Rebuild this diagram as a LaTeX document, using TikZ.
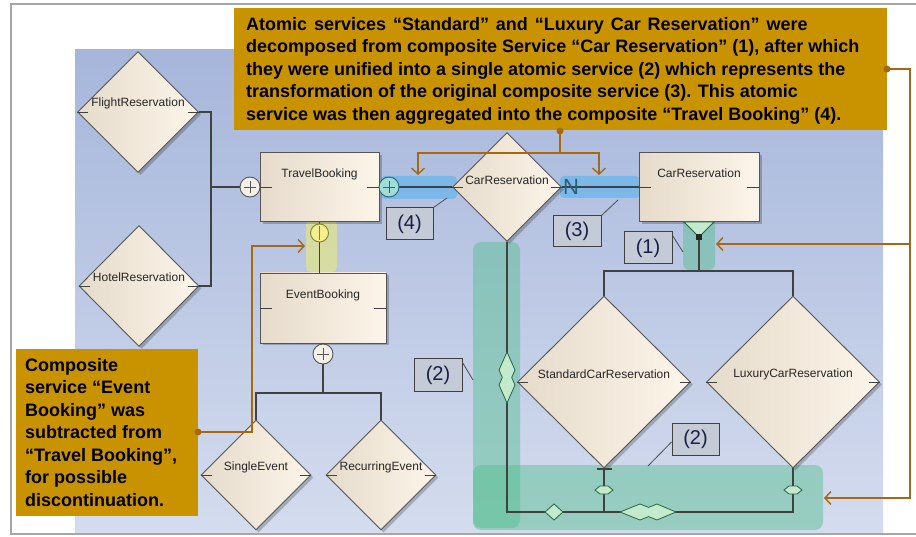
\documentclass[tikz,border=0pt]{standalone}
\usepackage{fontspec}
\setmainfont{Liberation Sans}
\usetikzlibrary{shapes.geometric,shadows,arrows.meta}

\definecolor{panelTop}{RGB}{166,182,219}
\definecolor{panelBot}{RGB}{212,220,238}
\definecolor{ochre}{RGB}{201,147,0}
\definecolor{annot}{RGB}{168,104,18}
\definecolor{creamL}{RGB}{230,219,203}
\definecolor{creamR}{RGB}{252,245,233}
\definecolor{edge}{RGB}{85,85,85}
\definecolor{wirec}{RGB}{65,65,65}
\definecolor{tagfill}{RGB}{196,203,214}
\definecolor{tagtext}{RGB}{22,32,72}
\definecolor{bandblue}{RGB}{110,182,235}
\definecolor{bandgreen}{RGB}{80,190,140}
\definecolor{bandyellow}{RGB}{235,235,120}
\definecolor{nodegreen}{RGB}{196,234,204}
\definecolor{darkgreen}{RGB}{40,100,70}
\definecolor{plusfill}{RGB}{244,240,232}
\definecolor{cyanfill}{RGB}{160,220,216}
\definecolor{cyanedge}{RGB}{40,100,110}
\definecolor{yelfill}{RGB}{246,240,140}
\definecolor{yeledge}{RGB}{130,130,60}
\definecolor{nmark}{RGB}{38,96,126}

\begin{document}
\begin{tikzpicture}[x=1pt,y=-1pt,
  every node/.style={inner sep=0pt},
  shadowed/.style={drop shadow={shadow xshift=2.5pt,shadow yshift=-2.5pt,opacity=0.22,fill=black}},
  svcbox/.style={rectangle,draw=edge,line width=0.9pt,left color=creamL,right color=creamR,shadowed},
  svcdia/.style={diamond,draw=edge,line width=0.9pt,left color=creamL,right color=creamR,shadowed},
  svclabel/.style={font=\fontsize{12}{14}\selectfont,text=black!85},
  wire/.style={draw=wirec,line width=1.1pt},
  porttick/.style={draw=wirec,line width=0.9pt},
  ann/.style={draw=annot,line width=1.4pt},
  annarrow/.style={ann,-{Straight Barb[length=6pt,width=13pt]}},
  annend/.style={circle,fill=annot,minimum size=7pt},
  tagbox/.style={rectangle,draw=black!75,line width=1pt,fill=tagfill,font=\fontsize{20}{22}\selectfont,text=tagtext},
  leader/.style={draw=black!70,line width=0.8pt},
  callout/.style={rectangle,fill=ochre},
  callouttext/.style={font=\bfseries\fontsize{18}{22.5}\selectfont,text=black,align=left},
  oplus/.style={circle,draw=edge,line width=0.9pt,minimum size=20pt,
    path picture={\draw[edge,line width=0.9pt]
      ([xshift=-6pt]path picture bounding box.center) -- ([xshift=6pt]path picture bounding box.center)
      ([yshift=-6pt]path picture bounding box.center) -- ([yshift=6pt]path picture bounding box.center);}},
  obar/.style={circle,draw=yeledge,line width=0.9pt,fill=yelfill,minimum size=18pt,
    path picture={\draw[yeledge,line width=0.9pt]
      ([yshift=-7pt]path picture bounding box.center) -- ([yshift=7pt]path picture bounding box.center);}},
  joint/.style={fill=nodegreen,draw=darkgreen,line width=0.8pt},
]
\useasboundingbox (0,0) rectangle (916,537);
\fill[white] (0,0) rectangle (916,537);
\draw[black!35,line width=2pt] (11,4) rectangle (930,534);

% diagram canvas
\shade[top color=panelTop,bottom color=panelBot] (75,50) rectangle (883,532);

% highlight bands
\fill[bandblue,opacity=0.8,rounded corners=4pt] (381,176) rectangle (457,199);
\fill[bandblue,opacity=0.8,rounded corners=4pt] (560,176) rectangle (640,198);
\fill[bandyellow,opacity=0.6,rounded corners=5pt] (306,220) rectangle (337,272);
\fill[bandgreen,opacity=0.45,rounded corners=8pt] (473,242) rectangle (520,528);
\fill[bandgreen,opacity=0.45,rounded corners=8pt] (473,465) rectangle (823,530);
\fill[bandgreen,opacity=0.45,rounded corners=6pt] (683,217) rectangle (715,270);

% services
\node[svcdia,minimum width=121pt,minimum height=121pt,label={[svclabel,yshift=9pt]center:FlightReservation}] (fr) at (138,112) {};
\node[svcdia,minimum width=120pt,minimum height=121pt,label={[svclabel,yshift=9pt]center:HotelReservation}] (hr) at (139,286) {};
\node[svcbox,minimum width=119pt,minimum height=69pt,label={[svclabel,yshift=13pt]center:TravelBooking}] (tb) at (319.5,187) {};
\node[svcbox,minimum width=126pt,minimum height=70pt,label={[svclabel,yshift=13pt]center:EventBooking}] (eb) at (323,308) {};
\node[svcdia,minimum width=109pt,minimum height=109pt,label={[svclabel,yshift=7pt]center:CarReservation}] (cd) at (507,187) {};
\node[svcbox,minimum width=120pt,minimum height=69pt,label={[svclabel,yshift=14pt]center:CarReservation}] (cr) at (699,187) {};
\node[svcdia,minimum width=173pt,minimum height=172pt,label={[svclabel,yshift=8pt]center:StandardCarReservation}] (sd) at (604,382) {};
\node[svcdia,minimum width=173pt,minimum height=172pt,label={[svclabel,yshift=8pt]center:LuxuryCarReservation}] (ld) at (793,382) {};
\node[svcdia,minimum width=110pt,minimum height=110pt,label={[svclabel,yshift=8pt]center:SingleEvent}] (se) at (256,475) {};
\node[svcdia,minimum width=110pt,minimum height=110pt,label={[svclabel,yshift=8pt]center:RecurringEvent}] (re) at (381,475) {};

% port ticks
\foreach \n in {fr,hr,cd,sd,ld,se,re}
  \draw[porttick] (\n.west) -- ++(11,0) (\n.east) -- ++(-11,0);
\foreach \n in {tb,eb,cr}
  \draw[porttick] (\n.west) -- ++(12,0) (\n.east) -- ++(-12,0);

% travel booking composition
\coordinate (j1) at (211,187);
\draw[wire] (fr.east) -| (j1) |- (hr.east);
\draw[wire] (j1) -- (tb.west);
\node[oplus,fill=plusfill] (p1) at (250,187) {};
\draw[wire] (tb.east) -- (cd.west);
\node[oplus,fill=cyanfill,draw=cyanedge] (p2) at (389,187) {};
\draw[wire] (cd.east) -- (cr.west);
\node[font=\fontsize{22}{24}\selectfont,text=nmark] (nm) at (571,187) {N};

% decomposition of the car reservation
\coordinate (fv) at (699,237);
\coordinate (j2) at (699,271);
\filldraw[fill=nodegreen,draw=darkgreen,line width=0.8pt] (684,222) -- (714,222) -- (fv) -- cycle;
\draw[wire] (fv) -- (j2);
\fill[black!85] (696,234) rectangle (702,240);
\draw[wire] (sd.north) |- (j2) -| (ld.north);

% event booking
\draw[wire] (tb.south) -- (tb.south |- eb.north);
\node[obar] (pb) at (319.5,233) {};
\coordinate (j5) at (323,393);
\draw[wire] (eb.south) -- (j5);
\draw[wire] (se.north) |- (j5) -| (re.north);
\node[oplus,fill=plusfill] (p3) at (323,354) {};

% unification
\coordinate (j3) at (507,512);
\coordinate (j4) at (793,512);
\draw[wire] (cd.south) -- (j3) -- (j4) -- (ld.south);
\draw[wire] (sd.south) -- (sd.south |- j3);
\draw[wire] (597,469) -- (612,469);
\filldraw[joint] (595,490) -- (600,486) -- (608,486) -- (613,490) -- (608,494) -- (600,494) -- cycle;
\filldraw[joint] (784,490) -- (789,486) -- (797,486) -- (802,490) -- (797,494) -- (789,494) -- cycle;
\filldraw[joint] (545,512) -- (554,504) -- (563,512) -- (554,520) -- cycle;
\filldraw[joint] (620,512) -- (640,504) -- (648.5,507.4) -- (657,504) -- (676,512) -- (657,520) -- (648.5,516.6) -- (640,520) -- cycle;
\filldraw[joint] (507,352) -- (515,370) -- (511.7,377.5) -- (515,385) -- (507,403) -- (499,385) -- (502.3,377.5) -- (499,370) -- cycle;

% step tags
\node[tagbox,minimum width=47pt,minimum height=32pt] (t4) at (409.5,224) {(4)};
\coordinate (l4) at (447,198);
\draw[leader] (t4.north east) -- (l4);
\node[tagbox,minimum width=48pt,minimum height=31pt] (t3) at (577,231.5) {(3)};
\coordinate (l3) at (618,200);
\draw[leader] (t3.north east) -- (l3);
\node[tagbox,minimum width=48pt,minimum height=32pt] (t1) at (648,248) {(1)};
\coordinate (l1) at (683,252);
\draw[leader] ([yshift=-4pt]t1.north east) -- (l1);
\node[tagbox,minimum width=48pt,minimum height=32pt] (t2a) at (438,375) {(2)};
\coordinate (l2a) at (473,380);
\draw[leader] ([yshift=-4pt]t2a.north east) -- (l2a);
\node[tagbox,minimum width=47pt,minimum height=32pt] (t2b) at (695.5,439) {(2)};
\coordinate (l2b) at (648,466);
\draw[leader] ([yshift=-3pt]t2b.west) -- (l2b);

% explanatory notes
\node[callout,minimum width=653pt,minimum height=122pt,anchor=north west] (ca) at (234,8) {};
\node[callouttext,anchor=north west] (catxt) at (246,17) {\spaceskip=6.9pt plus 1pt\relax
Atomic services “Standard” and “Luxury Car Reservation” were\\decomposed from composite Service “Car Reservation” (1), after which\\they were unified into a single atomic service (2) which represents the\\transformation of the original composite service (3). This atomic\\service was then aggregated into the composite “Travel Booking” (4).};
\node[callout,minimum width=182pt,minimum height=167pt,anchor=north west] (cb) at (16,349) {};
\node[callouttext,anchor=north west] (cbtxt) at (25,358) {Composite\\service “Event\\Booking” was\\subtracted from\\“Travel Booking”,\\for possible\\discontinuation.};

% note pointers
\coordinate (k1) at (560,153);
\coordinate (a4) at (418,175);
\coordinate (a3) at (599,175);
\node[annend] (d1) at (560,131) {};
\draw[ann] (d1.center) -- (k1);
\draw[annarrow] (k1) -| (a4);
\draw[annarrow] (k1) -| (a3);

\coordinate (k2) at (910,69);
\coordinate (k3) at (910,244);
\coordinate (k4) at (910,498);
\coordinate (a1) at (716,244);
\coordinate (a2) at (824,498);
\draw[annarrow] (887,69) -- (k2) -- (k4) -- (a2);
\draw[annarrow] (k3) -- (a1);
\node[annend] (d2) at (887,69) {};

\coordinate (k5) at (252,432);
\coordinate (a5) at (305,246);
\draw[annarrow] (198,432) -- (k5) |- (a5);
\node[annend] (d3) at (198,432) {};
\end{tikzpicture}
\end{document}
